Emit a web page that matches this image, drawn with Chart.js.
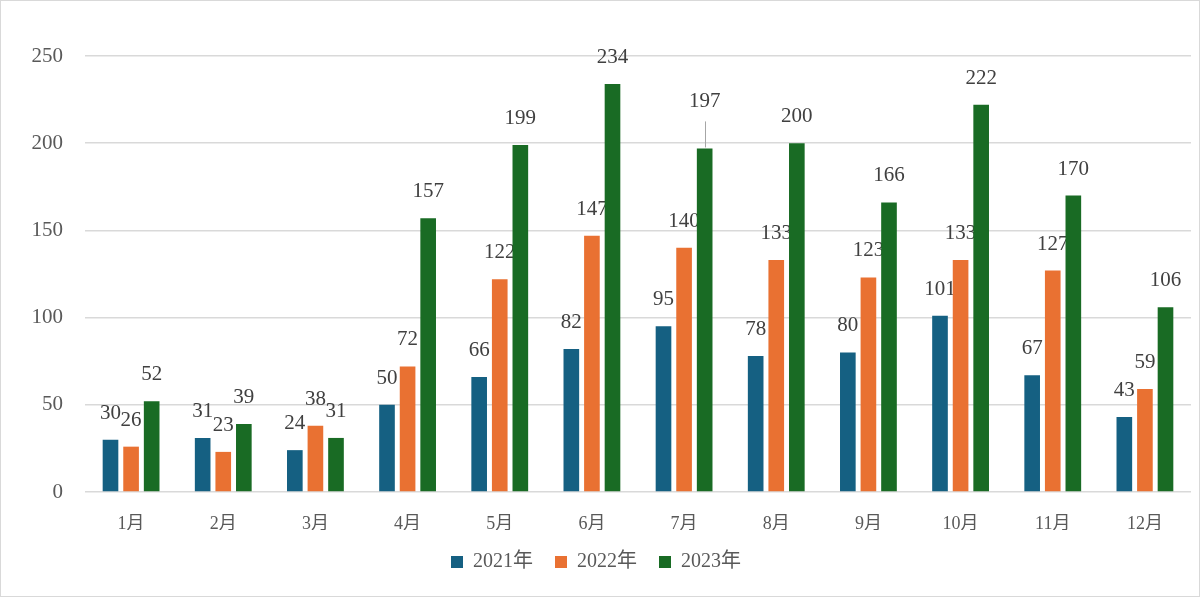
<!DOCTYPE html>
<html><head><meta charset="utf-8">
<script src="https://cdn.jsdelivr.net/npm/chart.js@4"></script>
<style>
html,body{margin:0;padding:0;background:#fff;}
#wrap{width:1200px;height:597px;box-sizing:border-box;border:1px solid #d9d9d9;position:relative;}
canvas{display:block;}
</style></head>
<body><div id="wrap"><canvas id="c" width="1198" height="595"></canvas></div>
<script>
const categories = ['1月','2月','3月','4月','5月','6月','7月','8月','9月','10月','11月','12月'];
const seriesNames = ['2021年','2022年','2023年'];
const values2021 = [30,31,24,50,66,82,95,78,80,101,67,43];
const values2022 = [26,23,38,72,122,147,140,133,123,133,127,59];
const values2023 = [52,39,31,157,199,234,197,200,166,222,170,106];
const yTicks = [0,50,100,150,200,250];
const colors = ['#156082','#E97132','#196B24'];

const FONT = "'Liberation Serif','Noto Sans CJK JP',serif";

const labelPlugin = {
  id: 'barLabels',
  beforeDatasetsDraw(chart) {
    const ctx = chart.ctx;
    ctx.save();
    ctx.font = "21px " + FONT;
    ctx.fillStyle = '#404040';
    ctx.textAlign = 'center';
    ctx.textBaseline = 'alphabetic';
    chart.data.datasets.forEach((ds, k) => {
      const meta = chart.getDatasetMeta(k);
      meta.data.forEach((bar, i) => {
        let lift = 21;
        if (k === 2 && i === 6) {
          lift = 41;
          ctx.strokeStyle = '#a6a6a6';
          ctx.lineWidth = 1;
          ctx.beginPath();
          ctx.moveTo(Math.round(bar.x) + 0.5, bar.y - 27);
          ctx.lineTo(Math.round(bar.x) + 0.5, bar.y - 1);
          ctx.stroke();
        }
        ctx.fillText(String(ds.data[i]), bar.x, bar.y - lift);
      });
    });
    ctx.restore();
  }
};

const datasets = [values2021, values2022, values2023].map((v, k) => ({
  label: seriesNames[k],
  data: v,
  backgroundColor: colors[k],
  borderWidth: 0,
  categoryPercentage: 0.67,
  barPercentage: 0.76
}));

new Chart(document.getElementById('c'), {
  type: 'bar',
  data: { labels: categories, datasets },
  plugins: [labelPlugin],
  options: {
    responsive: false,
    animation: false,
    devicePixelRatio: 1,
    layout: { padding: { top: 55, right: 8, left: 0, bottom: 14 } },
    plugins: {
      tooltip: { enabled: false },
      legend: {
        position: 'bottom',
        labels: {
          font: { family: FONT, size: 20 },
          color: '#595959',
          boxWidth: 12,
          boxHeight: 12,
          padding: 22
        }
      }
    },
    scales: {
      x: {
        grid: { display: false, drawTicks: false },
        border: { display: false },
        ticks: { font: { family: FONT, size: 18 }, color: '#595959', padding: 21 },
        afterFit: s => { s.height = 38; }
      },
      y: {
        min: 0, max: 250,
        afterBuildTicks: s => { s.ticks = yTicks.map(v => ({ value: v })); },
        grid: { color: '#d9d9d9', lineWidth: 1.5, drawTicks: false },
        border: { display: false },
        ticks: { font: { family: FONT, size: 21 }, color: '#595959', padding: 22 },
        afterFit: s => { s.width = 84; }
      }
    }
  }
});
</script></body></html>
